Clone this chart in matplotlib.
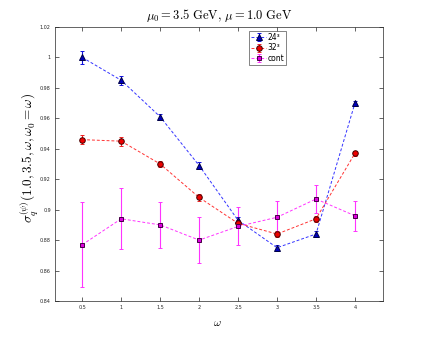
import matplotlib
matplotlib.use("Agg")
import matplotlib.pyplot as plt

plt.rcParams['mathtext.fontset'] = 'cm'

omega = [0.5, 1.0, 1.5, 2.0, 2.5, 3.0, 3.5, 4.0]
s24 = [1.000, 0.985, 0.961, 0.929, 0.893, 0.875, 0.884, 0.970]
e24 = [0.004, 0.003, 0.002, 0.002, 0.002, 0.002, 0.002, 0.0015]
s32 = [0.946, 0.945, 0.930, 0.908, 0.891, 0.884, 0.894, 0.937]
e32 = [0.003, 0.003, 0.002, 0.002, 0.002, 0.002, 0.002, 0.0015]
scont = [0.877, 0.894, 0.890, 0.880, 0.889, 0.895, 0.907, 0.896]
econt = [0.028, 0.020, 0.015, 0.015, 0.0125, 0.011, 0.009, 0.010]
xticks = [0.5, 1, 1.5, 2, 2.5, 3, 3.5, 4]
xticklabels = ['0.5', '1', '1.5', '2', '2.5', '3', '3.5', '4']
yticks = [0.84, 0.86, 0.88, 0.9, 0.92, 0.94, 0.96, 0.98, 1.0, 1.02]
yticklabels = ['0.84', '0.86', '0.88', '0.9', '0.92', '0.94', '0.96', '0.98', '1', '1.02']

fig = plt.figure(figsize=(4.24, 3.39), dpi=100)
ax = fig.add_axes([55/424, 1 - 301/339, 328/424, 274/339])

ax.errorbar(omega, s24, yerr=e24, fmt='^--', color='#3333ff', mfc='#0000bb', mec='#000044',
            ms=4, mew=0.7, lw=0.7, elinewidth=0.8, capsize=1.5, ecolor='#1010dd', label='24³', dashes=(3, 2))
ax.errorbar(omega, s32, yerr=e32, fmt='o--', color='#ff3333', mfc='#ee0000', mec='#440000',
            ms=4, mew=0.7, lw=0.7, elinewidth=0.8, capsize=1.5, ecolor='#ee2020', label='32³', dashes=(3, 2))
ax.errorbar(omega, scont, yerr=econt, fmt='s--', color='#ff33ff', mfc='#dd00dd', mec='#440044',
            ms=3.5, mew=0.7, lw=0.7, elinewidth=0.8, capsize=1.5, ecolor='#ff33ff', label='cont', dashes=(3, 2))

ax.set_xlim(0.15, 4.36)
ax.set_ylim(0.84, 1.02)
ax.set_xticks(xticks)
ax.set_xticklabels(xticklabels)
ax.set_yticks(yticks)
ax.set_yticklabels(yticklabels)
ax.tick_params(direction='in', top=True, right=True, labelsize=3.5, length=3, width=0.5,
               colors='#262626', pad=3)
for sp in ax.spines.values():
    sp.set_color('#262626')
    sp.set_linewidth(0.5)

ax.set_title(r'$\mu_0 = 3.5\ \mathrm{GeV},\, \mu = 1.0\ \mathrm{GeV}$', fontsize=9, pad=6)
ax.set_xlabel(r'$\omega$', fontsize=8)
ax.xaxis.set_label_coords((217-55)/328, -(318-301)/274)
ax.set_ylabel(r'$\sigma_q^{(\psi)}(1.0, 3.5, \omega, \omega_0 = \omega)$', fontsize=9.5)
ax.yaxis.set_label_coords((41-55)/328, (301-158)/274)

leg = ax.legend(loc='upper left', bbox_to_anchor=((249-55)/328, (301-31)/274), fontsize=5.5,
                frameon=True, fancybox=False, edgecolor='#262626', handlelength=2.0,
                borderpad=0.25, labelspacing=0.2, handletextpad=0.2, borderaxespad=0)
leg.get_frame().set_linewidth(0.5)

fig.savefig('out.png', dpi=100)
